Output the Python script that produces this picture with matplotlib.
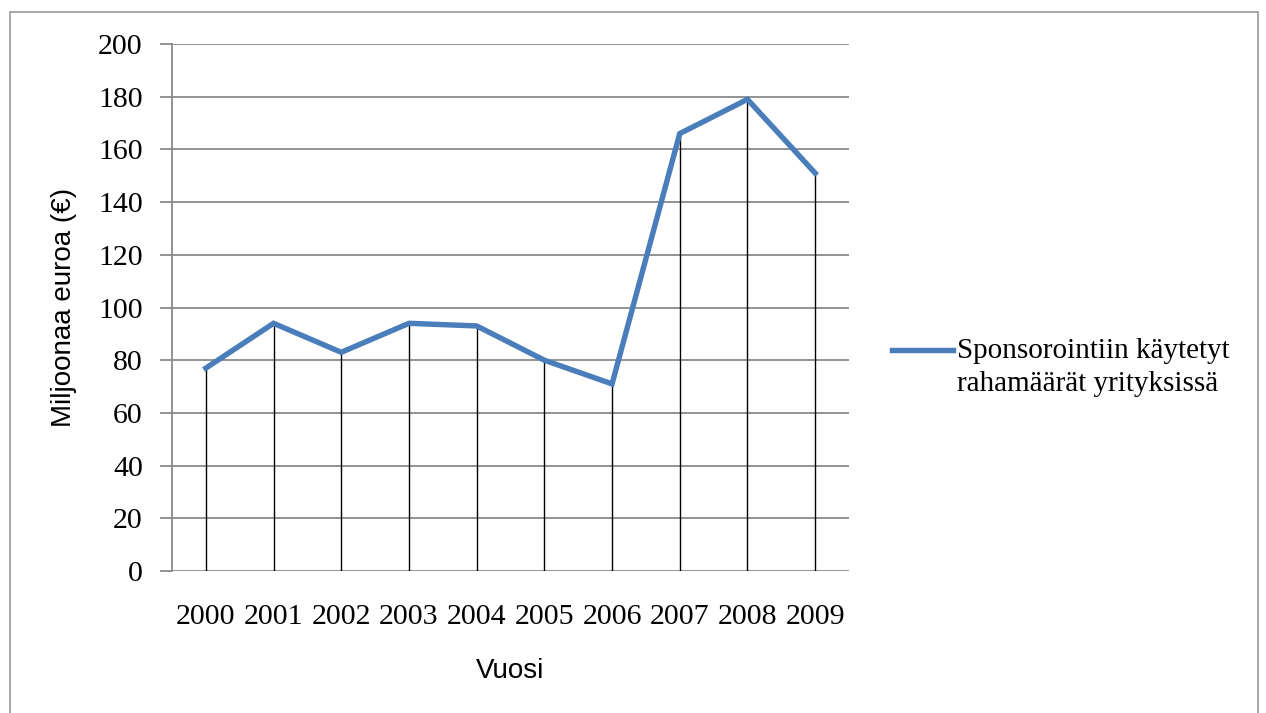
import matplotlib.pyplot as plt
from matplotlib.patches import Rectangle
from matplotlib.lines import Line2D

years = ["2000", "2001", "2002", "2003", "2004", "2005", "2006", "2007", "2008", "2009"]
amounts = [77, 94, 83, 94, 93, 80, 71, 166, 179, 151]
yticks = [0, 20, 40, 60, 80, 100, 120, 140, 160, 180, 200]
series_label = "Sponsorointiin käytetyt\nrahamäärät yrityksissä"

SERIF = ["Liberation Serif", "DejaVu Serif"]
NARROW = ["Liberation Sans Narrow", "Liberation Sans", "DejaVu Sans"]
GRID = "#8a8a8a"
BLUE = "#4a7ebb"
W, H = 1266, 713

fig = plt.figure(figsize=(W / 100, H / 100), dpi=100)
fig.patch.set_facecolor("white")

# outer frame around the chart
fig.patches.append(Rectangle((10 / W, -0.05), 1248 / W, 1.05 - 12 / H,
                             transform=fig.transFigure, fill=False,
                             edgecolor="#a0a0a0", linewidth=1.3))

ax = fig.add_axes([172 / W, 1 - 571 / H, 677 / W, 527 / H])
x = list(range(len(years)))

ax.set_xlim(-0.5, len(years) - 0.5)
ax.set_ylim(0, 200)
ax.set_yticks(yticks)
ax.set_xticks(x)
ax.set_xticklabels(years)

ax.grid(axis="y", color=GRID, linewidth=1.3, zorder=0)
ax.set_axisbelow(True)

# drop lines from each point down to zero
ax.vlines(x, 0, amounts, color="black", linewidth=1.0, zorder=2)
ax.plot(x, amounts, color=BLUE, linewidth=3.9, solid_joinstyle="miter", zorder=3)

for s in ["top", "right", "bottom"]:
    ax.spines[s].set_visible(False)
ax.spines["left"].set_color(GRID)
ax.spines["left"].set_linewidth(1.3)

ax.tick_params(axis="y", length=9, width=1.3, color=GRID, pad=12)
ax.tick_params(axis="x", length=0, pad=24)
for lab in ax.get_xticklabels() + ax.get_yticklabels():
    lab.set_family(SERIF)
    lab.set_fontsize(21.5)

ax.set_ylabel("Miljoonaa euroa (€)", family=NARROW, fontsize=20, labelpad=15)
ax.set_xlabel("Vuosi", family=NARROW, fontsize=20, labelpad=20)

# legend: line sample beside the first text row
fig.add_artist(Line2D([892 / W, 953 / W], [1 - 350 / H, 1 - 350 / H],
                      transform=fig.transFigure, color=BLUE, linewidth=3.9))
fig.text(957 / W, 1 - 338 / H, series_label, family=SERIF, fontsize=21,
         ha="left", va="top", linespacing=1.35)

fig.savefig("out.png", dpi=100)
